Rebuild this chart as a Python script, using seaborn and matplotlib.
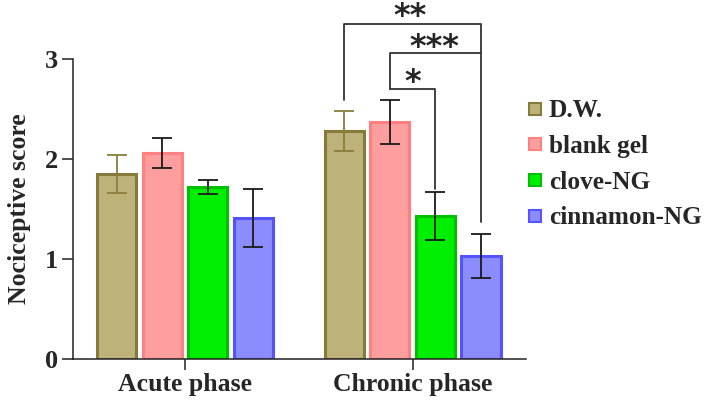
import numpy as np
import pandas as pd
import matplotlib
matplotlib.use("Agg")
import matplotlib.pyplot as plt
from matplotlib.lines import Line2D
import seaborn as sns

# values
phases = ["Acute phase", "Chronic phase"]
groups = ["D.W.", "blank gel", "clove-NG", "cinnamon-NG"]
acute_mean = [1.85, 2.06, 1.72, 1.41]
acute_sem = [0.19, 0.15, 0.07, 0.29]
chronic_mean = [2.28, 2.37, 1.43, 1.03]
chronic_sem = [0.20, 0.22, 0.24, 0.22]

face_cols = ["#BDB27A", "#FF9E9E", "#00EE00", "#8C8CFF"]
edge_cols = ["#867A3A", "#FF8080", "#00C000", "#5353FF"]
err_cols = ["#8B7D3A", "#1a1a1a", "#1a1a1a", "#1a1a1a"]

df = pd.DataFrame({
    "phase": [p for p in phases for g in groups],
    "group": groups * 2,
    "score": acute_mean + chronic_mean,
    "sem": acute_sem + chronic_sem,
})

sns.set_style("ticks")
plt.rcParams["font.family"] = ["Liberation Serif", "DejaVu Serif"]
plt.rcParams["font.weight"] = "bold"

fig = plt.figure(figsize=(7.08, 4.01), dpi=100)
ax = fig.add_axes([0.103, 0.1047, 0.640, 0.7483])

sns.barplot(data=df, x="phase", y="score", hue="group", palette=face_cols,
            hue_order=groups, order=phases, errorbar=None, width=0.8, gap=0.14,
            linewidth=2.2, saturation=1, legend=False, ax=ax)

bar_conts = list(ax.containers)
centers = {}
for gi, cont in enumerate(bar_conts):
    sub = df[df.group == groups[gi]].set_index("phase").loc[phases]
    for pi, bar in enumerate(cont):
        bar.set_edgecolor(edge_cols[gi])
        cx = bar.get_x() + bar.get_width() / 2
        centers[(gi, pi)] = cx
        ax.errorbar(cx, sub["score"].iloc[pi], yerr=sub["sem"].iloc[pi],
                    color=err_cols[gi], capsize=7.5, elinewidth=1.3,
                    capthick=1.3, zorder=4)

ax.set_xlim(-0.492, 1.498)
ax.set_ylim(0, 3)
ax.set_yticks([0, 1, 2, 3])
ax.spines["left"].set_bounds(0, 3)
ax.spines[["top", "right"]].set_visible(False)
for s in ["left", "bottom"]:
    ax.spines[s].set_linewidth(1.1)
    ax.spines[s].set_color("#222222")
ax.tick_params(axis="both", length=8, width=1.1, color="#222222")
ax.tick_params(axis="y", labelsize=19, pad=3)
ax.tick_params(axis="x", labelsize=18.5, pad=2)
ax.set_xlabel("")
ax.set_ylabel("Nociceptive score", fontsize=18.5, fontweight="bold", labelpad=10)

# significance brackets (chronic phase)
dw, bg, cl, cn = (centers[(i, 1)] for i in range(4))
kw = dict(color="#333333", lw=1.3, clip_on=False, zorder=5)
ax.plot([dw, dw, cn, cn], [2.59, 3.345, 3.345, 1.37], **kw)
ax.plot([bg, bg, cn], [2.70, 3.06, 3.06], **kw)
ax.plot([bg, cl, cl], [2.70, 2.70, 1.70], **kw)
star_kw = dict(ha="center", va="center", fontsize=23, fontweight="bold",
               family="DejaVu Sans", clip_on=False)
ax.text(0.988, 3.42, "**", **star_kw)
ax.text(1.095, 3.11, "***", **star_kw)
ax.text(0.999, 2.76, "*", **star_kw)

handles = [Line2D([], [], ls="none", marker="s", markersize=9,
                  markerfacecolor=f, markeredgecolor=e, markeredgewidth=1.5)
           for f, e in zip(face_cols, edge_cols)]
leg = fig.legend(handles, groups, loc="upper left", bbox_to_anchor=(0.745, 0.752),
                 frameon=False, fontsize=18.2, handlelength=0.6, handletextpad=0.25,
                 labelspacing=0.5, borderaxespad=0, borderpad=0)
for t in leg.get_texts():
    t.set_fontweight("bold")

fig.savefig("out.png", dpi=100)
